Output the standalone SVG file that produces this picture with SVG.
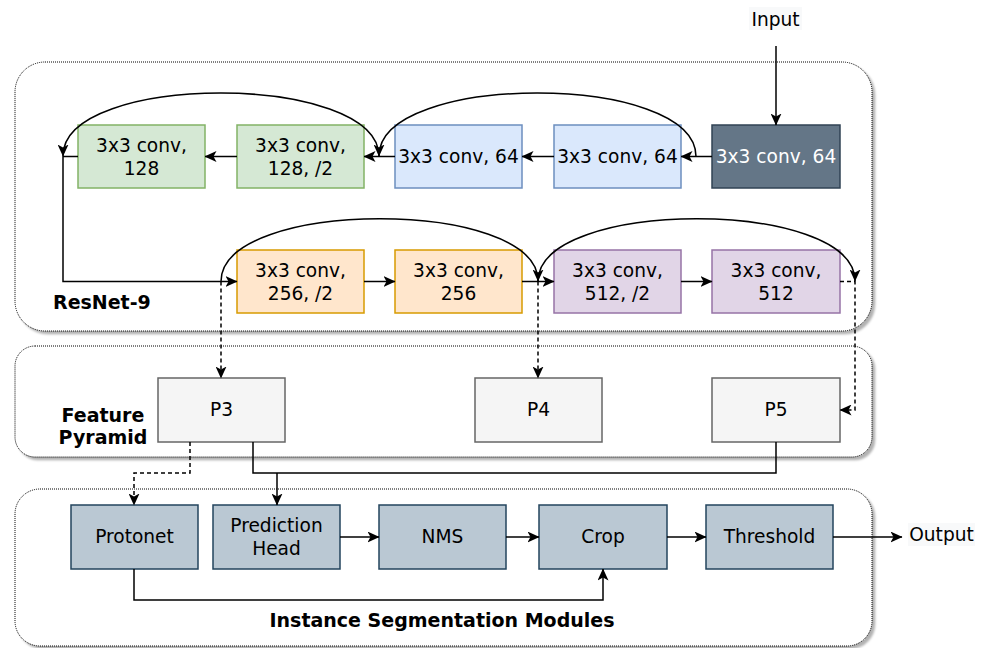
<svg xmlns="http://www.w3.org/2000/svg" width="989" height="648" viewBox="0 0 989 648">
  <defs>
    <marker id="arrow" viewBox="0 0 12 11" refX="11.5" refY="5.5" markerWidth="12" markerHeight="11" markerUnits="userSpaceOnUse" orient="auto">
      <path d="M0,0 L12,5.5 L0,11 L3,5.5 Z" fill="#000"/>
    </marker>
    <filter id="shadow" x="-5%" y="-5%" width="110%" height="115%">
      <feDropShadow dx="3" dy="3" stdDeviation="1.2" flood-color="#000" flood-opacity="0.3"/>
    </filter>
  </defs>
  <style>
    text { font-family: "DejaVu Sans", Verdana, sans-serif; font-size: 18.6px; fill: #000; }
    .c { text-anchor: middle; }
    .w { fill: #fff; }
    .b { font-weight: bold; font-size: 19px; }
    .group { fill: #fff; stroke: #000; stroke-width: 1; stroke-dasharray: 1 1; filter: url(#shadow); }
    .green { fill: #d5e8d4; stroke: #82b366; stroke-width: 1.5; }
    .blue { fill: #dae8fc; stroke: #6c8ebf; stroke-width: 1.5; }
    .dark { fill: #647687; stroke: #314354; stroke-width: 1.5; }
    .orange { fill: #ffe6cc; stroke: #d79b00; stroke-width: 1.5; }
    .purple { fill: #e1d5e7; stroke: #9673a6; stroke-width: 1.5; }
    .gray { fill: #f5f5f5; stroke: #666666; stroke-width: 1.5; }
    .mod { fill: #bac8d3; stroke: #23445d; stroke-width: 1.5; }
    .edge { fill: none; stroke: #000; stroke-width: 1.5; }
    .arr { marker-end: url(#arrow); }
    .dash { stroke-dasharray: 4 3; }
    .lblbg { fill: #f8f9fa; }
  </style>

  <!-- container groups -->
  <g id="resnet9">
    <rect class="group" x="15" y="62" width="857" height="269" rx="30" ry="30"/>
    <text class="b" x="53" y="309">ResNet-9</text>
  </g>
  <g id="feature-pyramid">
    <rect class="group" x="15" y="346" width="857" height="111" rx="20" ry="20"/>
    <text class="b c" x="103" y="422">Feature</text>
    <text class="b c" x="103" y="444">Pyramid</text>
  </g>
  <g id="instance-seg">
    <rect class="group" x="15" y="489" width="857" height="157" rx="25" ry="25"/>
    <text class="b c" x="442" y="627">Instance Segmentation Modules</text>
  </g>

  <!-- backbone, row 1 -->
  <g id="conv64a">
    <rect class="dark" x="712" y="125" width="128" height="63"/>
    <text class="c w" x="776" y="163">3x3 conv, 64</text>
  </g>
  <g id="conv64b">
    <rect class="blue" x="554" y="125" width="127" height="63"/>
    <text class="c" x="617.5" y="163">3x3 conv, 64</text>
  </g>
  <g id="conv64c">
    <rect class="blue" x="395" y="125" width="127" height="63"/>
    <text class="c" x="458.5" y="163">3x3 conv, 64</text>
  </g>
  <g id="conv128s2">
    <rect class="green" x="237" y="125" width="127" height="63"/>
    <text class="c" x="300.5" y="152">3x3 conv,</text>
    <text class="c" x="300.5" y="175">128, /2</text>
  </g>
  <g id="conv128">
    <rect class="green" x="78" y="125" width="127" height="63"/>
    <text class="c" x="141.5" y="152">3x3 conv,</text>
    <text class="c" x="141.5" y="175">128</text>
  </g>

  <!-- backbone, row 2 -->
  <g id="conv256s2">
    <rect class="orange" x="237" y="250" width="127" height="63"/>
    <text class="c" x="300.5" y="277">3x3 conv,</text>
    <text class="c" x="300.5" y="300">256, /2</text>
  </g>
  <g id="conv256">
    <rect class="orange" x="395" y="250" width="127" height="63"/>
    <text class="c" x="458.5" y="277">3x3 conv,</text>
    <text class="c" x="458.5" y="300">256</text>
  </g>
  <g id="conv512s2">
    <rect class="purple" x="554" y="250" width="127" height="63"/>
    <text class="c" x="617.5" y="277">3x3 conv,</text>
    <text class="c" x="617.5" y="300">512, /2</text>
  </g>
  <g id="conv512">
    <rect class="purple" x="712" y="250" width="128" height="63"/>
    <text class="c" x="776" y="277">3x3 conv,</text>
    <text class="c" x="776" y="300">512</text>
  </g>

  <!-- feature pyramid levels -->
  <g id="p3">
    <rect class="gray" x="158" y="378" width="127" height="64"/>
    <text class="c" x="221.5" y="416">P3</text>
  </g>
  <g id="p4">
    <rect class="gray" x="475" y="378" width="127" height="64"/>
    <text class="c" x="538.5" y="416">P4</text>
  </g>
  <g id="p5">
    <rect class="gray" x="712" y="378" width="128" height="64"/>
    <text class="c" x="776" y="416">P5</text>
  </g>

  <!-- segmentation modules -->
  <g id="protonet">
    <rect class="mod" x="71" y="505" width="127" height="64"/>
    <text class="c" x="134.5" y="543">Protonet</text>
  </g>
  <g id="prediction-head">
    <rect class="mod" x="213" y="505" width="127" height="64"/>
    <text class="c" x="276.5" y="532">Prediction</text>
    <text class="c" x="276.5" y="555">Head</text>
  </g>
  <g id="nms">
    <rect class="mod" x="379" y="505" width="127" height="64"/>
    <text class="c" x="442.5" y="543">NMS</text>
  </g>
  <g id="crop">
    <rect class="mod" x="539" y="505" width="128" height="64"/>
    <text class="c" x="603" y="543">Crop</text>
  </g>
  <g id="threshold">
    <rect class="mod" x="706" y="505" width="127" height="64"/>
    <text class="c" x="769.5" y="543">Threshold</text>
  </g>

  <!-- input / output labels -->
  <g id="input">
    <rect class="lblbg" x="749" y="7" width="53" height="23"/>
    <text class="c" x="775.5" y="26">Input</text>
  </g>
  <g id="output">
    <rect class="lblbg" x="908" y="523" width="67" height="23"/>
    <text class="c" x="941.5" y="541">Output</text>
  </g>

  <!-- connectors -->
  <g id="connectors">
    <path class="edge arr" d="M776,46 L776,125"/>
    <path class="edge arr" d="M712,156.5 L681,156.5"/>
    <path class="edge arr" d="M554,156.5 L522,156.5"/>
    <path class="edge arr" d="M395,156.5 L364,156.5"/>
    <path class="edge arr" d="M237,156.5 L205,156.5"/>
    <path class="edge arr" d="M78,156.5 L63,156.5 L63,281.5 L237,281.5"/>
    <!-- residual skips, row 1 -->
    <path class="edge arr" d="M696,156.5 C696,72 379,72 379,156"/>
    <path class="edge arr" d="M379,156.5 C379,72 63,72 63,156"/>
    <!-- row 2 -->
    <path class="edge arr" d="M364,281.5 L395,281.5"/>
    <path class="edge arr" d="M522,281.5 L554,281.5"/>
    <path class="edge arr" d="M681,281.5 L712,281.5"/>
    <path class="edge arr" d="M221,281.5 C221,198 538,198 538,281"/>
    <path class="edge arr" d="M538,281.5 C538,198 855,198 855,281"/>
    <!-- taps into the feature pyramid -->
    <path class="edge arr dash" d="M221,281.5 L221,378"/>
    <path class="edge arr dash" d="M538,281.5 L538,378"/>
    <path class="edge arr dash" d="M840,281.5 L855,281.5 L855,410 L840,410"/>
    <!-- pyramid to modules -->
    <path class="edge arr dash" d="M190,442 L190,473 L134,473 L134,505"/>
    <path class="edge" d="M253,442 L253,473 L776,473 L776,442"/>
    <path class="edge arr" d="M277,473 L277,505"/>
    <!-- module chain -->
    <path class="edge arr" d="M340,537 L379,537"/>
    <path class="edge arr" d="M506,537 L539,537"/>
    <path class="edge arr" d="M667,537 L706,537"/>
    <path class="edge arr" d="M833,537 L902,537"/>
    <path class="edge arr" d="M134,569 L134,600 L603,600 L603,569"/>
  </g>
</svg>
